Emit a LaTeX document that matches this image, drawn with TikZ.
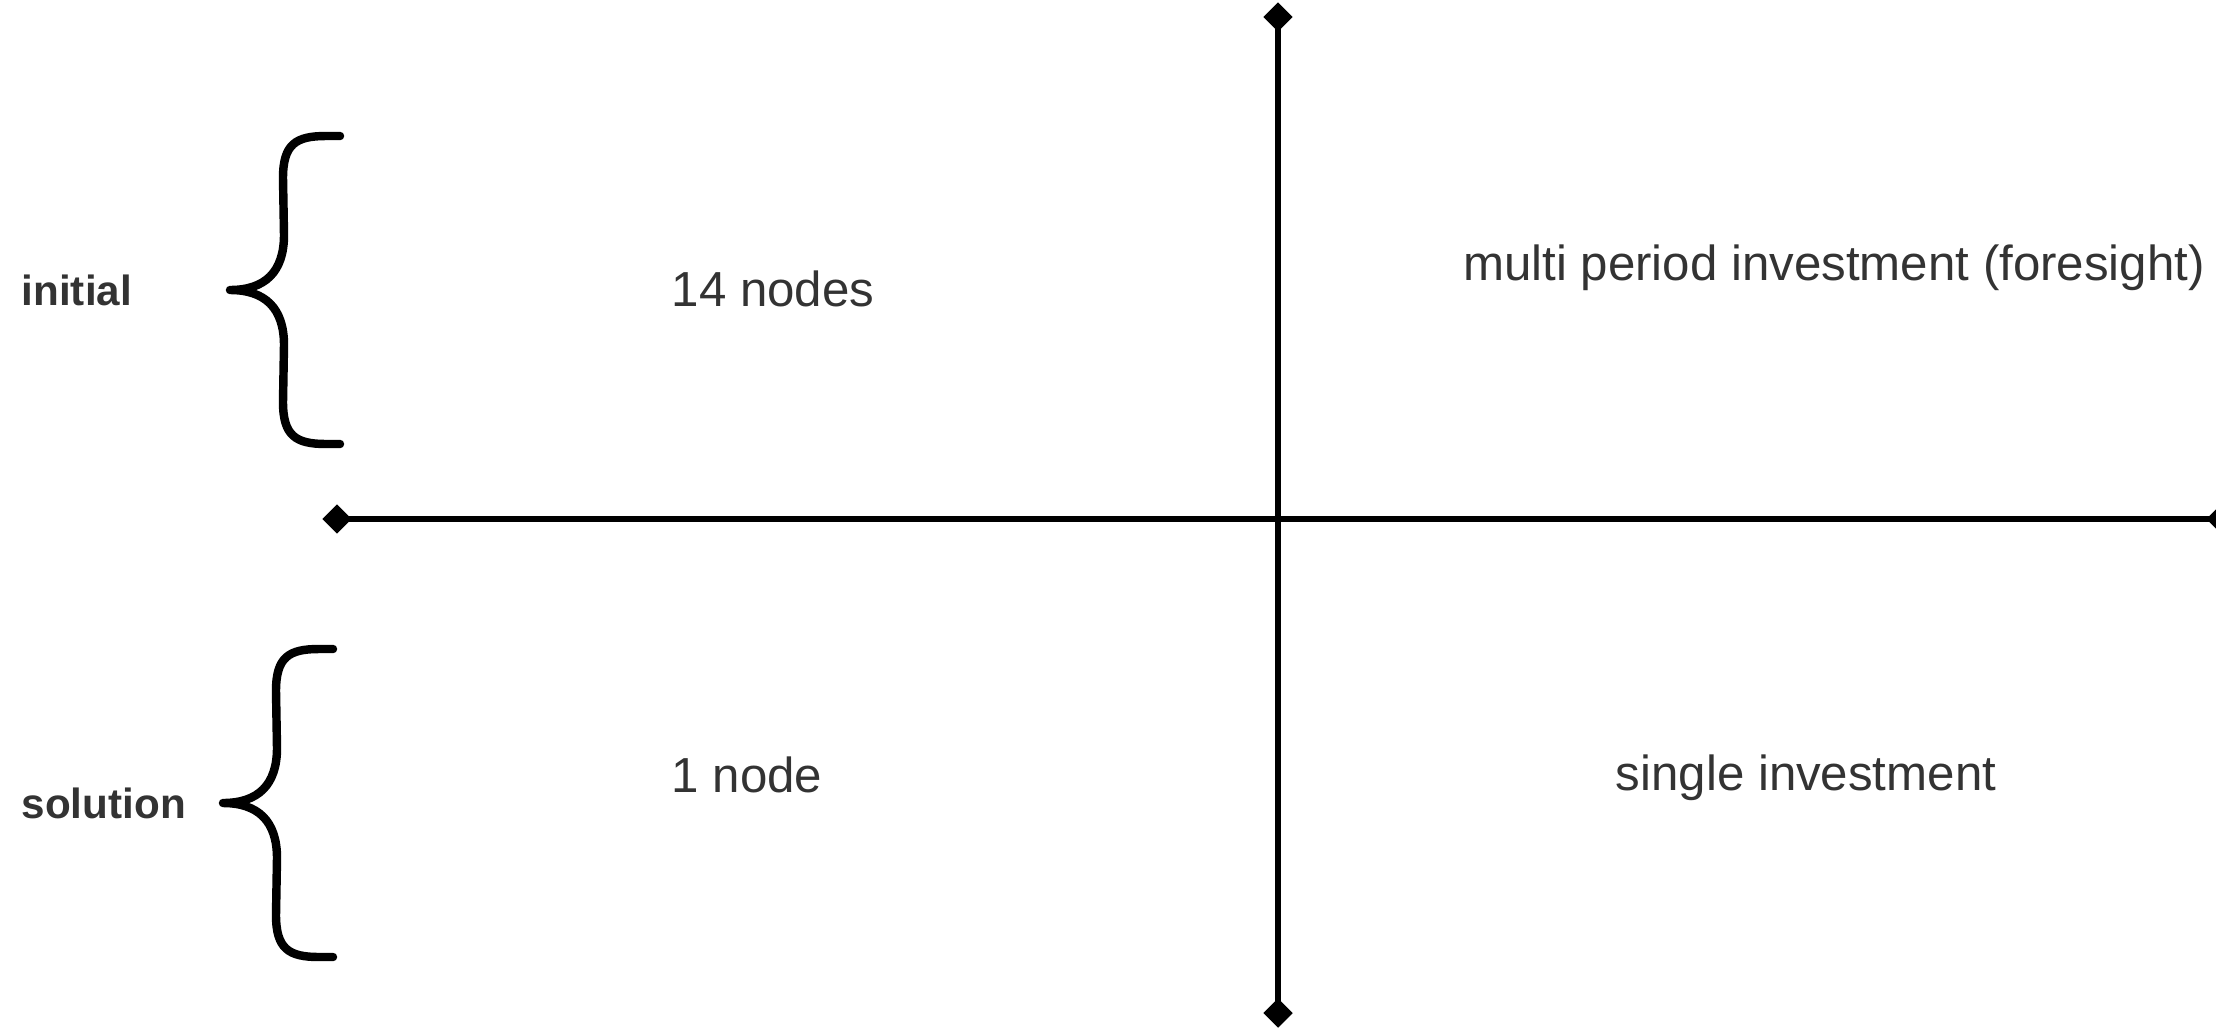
\documentclass[tikz,border=0pt]{standalone}
\usepackage{fontspec}
\setmainfont{Liberation Sans}
\usepackage{xcolor}
\usepackage{tikz}
\usetikzlibrary{shapes.geometric,positioning,calc}
\definecolor{labelgray}{RGB}{51, 51, 51}
\tikzset{
    endtip/.style={diamond,fill=black,inner sep=0pt,minimum size=0.3cm},
    quadtext/.style={text=labelgray,font=\fontsize{14}{17}\selectfont,inner sep=0pt},
    sidetext/.style={text=labelgray,font=\fontsize{12}{15}\bfseries,inner sep=0pt,anchor=west},
    curly/.style={line width=2.4pt,line cap=round,line join=round}
}
% curly brace, tip at the origin
\newcommand{\bracepath}{(110,-154) -- (96,-154) .. controls (66,-154) and (53,-146) .. (53,-112) -- (54,-55) .. controls (54,-18) and (35,0) .. (0,0) .. controls (35,0) and (54,18) .. (54,55) -- (53,112) .. controls (53,146) and (66,154) .. (96,154) -- (110,154)}

\begin{document}
\begin{tikzpicture}[x=0.01cm,y=-0.01cm]
    \useasboundingbox (0,0) rectangle (2216,1027);
    % axes
    \node[endtip] (vtop) at (1278,17) {};
    \node[endtip] (vbot) at (1278,1013) {};
    \node[endtip] (hleft) at (337,519) {};
    \node[endtip] (hright) at (2221,519) {};
    \draw[line width=1.6pt] (vtop.center) -- (vbot.center);
    \draw[line width=1.6pt] (hleft.center) -- (hright.center);
    % braces
    \begin{scope}[shift={(230,290)}]
        \draw[curly] \bracepath;
    \end{scope}
    \begin{scope}[shift={(223,803)}]
        \draw[curly] \bracepath;
    \end{scope}
    % labels
    \node[sidetext] (initial) at (21,290) {initial};
    \node[sidetext] (solution) at (21,803) {solution};
    \node[quadtext,anchor=west] (manynodes) at (671,289) {14 nodes};
    \node[quadtext,anchor=west] (onenode) at (671,775) {1 node};
    \node[quadtext] (multi) at (1834,268) {multi period investment (foresight)};
    \node[quadtext] (single) at (1806,778) {single investment};
\end{tikzpicture}
\end{document}
